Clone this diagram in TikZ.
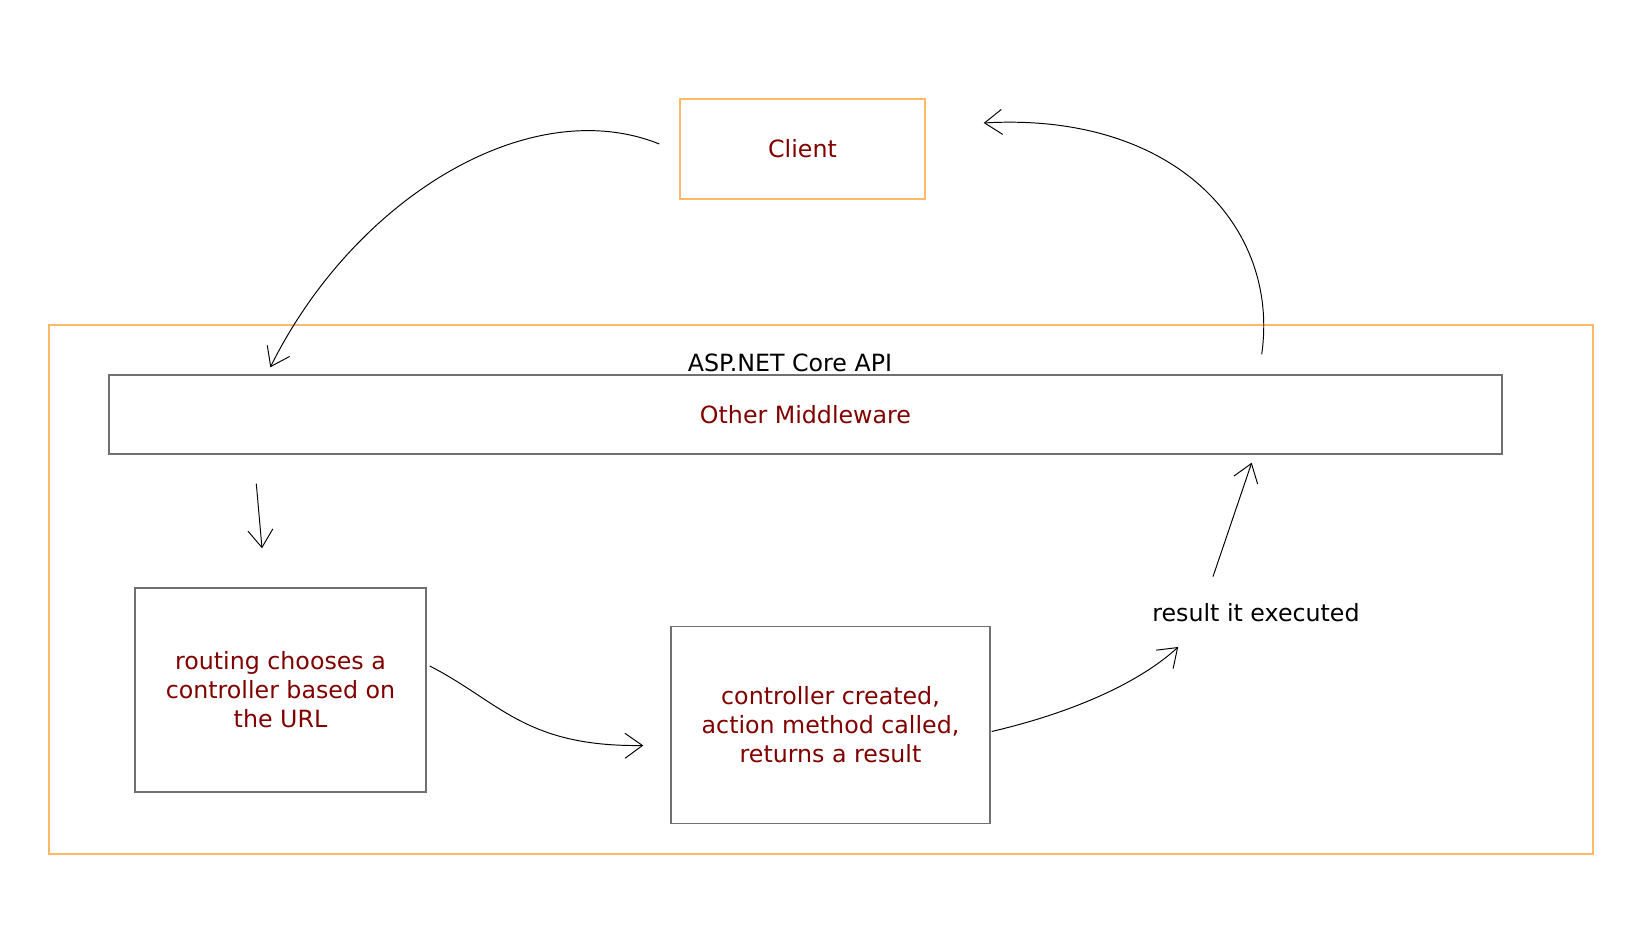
\documentclass[tikz,border=0pt]{standalone}
\usepackage{fontspec}
\setmainfont{DejaVu Sans}
\usetikzlibrary{arrows.meta,positioning}
\definecolor{boxorange}{RGB}{255,185,105}
\definecolor{boxgray}{RGB}{112,112,112}
\definecolor{textred}{RGB}{128,0,0}
\tikzset{
  apibox/.style={draw=boxorange,line width=0.8pt},
  stepbox/.style={draw=boxgray,line width=0.8pt,text=textred,align=center},
  sketch/.style={line width=0.55pt,-{Straight Barb[length=3.5mm,width=5mm]}}
}

\begin{document}
\begin{tikzpicture}[font=\fontsize{13.5}{16.5}\selectfont]
\useasboundingbox (0,0) rectangle (32.96,18.54);
% Client
\node[apibox,text=textred,minimum width=4.9cm,minimum height=2cm] (client) at (16.05,15.56) {Client};
% API
\node[apibox,minimum width=30.88cm,minimum height=10.58cm] (api) at (16.42,6.75) {};
\node[stepbox,minimum width=27.86cm,minimum height=1.58cm] (mw) at (16.11,10.25) {Other Middleware};
\node[above = 0.4mm of mw.north,inner sep=0pt,xshift=-3.1mm] (apilabel) {ASP.NET Core API};
% Steps
\node[stepbox,minimum width=5.82cm,minimum height=4.08cm] (routing) at (5.61,4.74) {routing chooses a\\controller based on\\the URL};
\node[stepbox,minimum width=6.38cm,minimum height=3.93cm] (ctrl) at (16.61,4.04) {controller created,\\action method called,\\returns a result};
\node (result) at (25.12,6.28) {result it executed};
% Arrows
\draw[sketch] ([xshift=-4mm,yshift=1mm]client.west) .. controls (10.6,16.7) and (7.1,14.6) .. ([xshift=32.4mm,yshift=1.4mm]mw.north west); % request in
\draw[sketch] ([xshift=29.6mm,yshift=-5.8mm]mw.south west) -- ([xshift=-3.7mm,yshift=7.8mm]routing.north); % to routing
\draw[sketch] ([xshift=0.6mm,yshift=4.8mm]routing.east) .. controls (10.0,4.5) and (10.5,3.6) .. ([xshift=-5.4mm,yshift=-4.1mm]ctrl.west); % to controller
\draw[sketch] ([xshift=0.2mm,yshift=-1.3mm]ctrl.east) .. controls (21.5,4.3) and (22.8,4.9) .. ([xshift=6.4mm,yshift=-6.8mm]result.west); % to result
\draw[sketch] ([xshift=-8.6mm,yshift=4.2mm]result.north) -- ([xshift=-50.2mm,yshift=-1.6mm]mw.south east); % back up
\draw[sketch] ([xshift=-48.2mm,yshift=4mm]mw.north east) .. controls (25.6,14.0) and (23.5,16.3) .. ([xshift=11.6mm,yshift=5.2mm]client.east); % response out
\end{tikzpicture}
\end{document}
